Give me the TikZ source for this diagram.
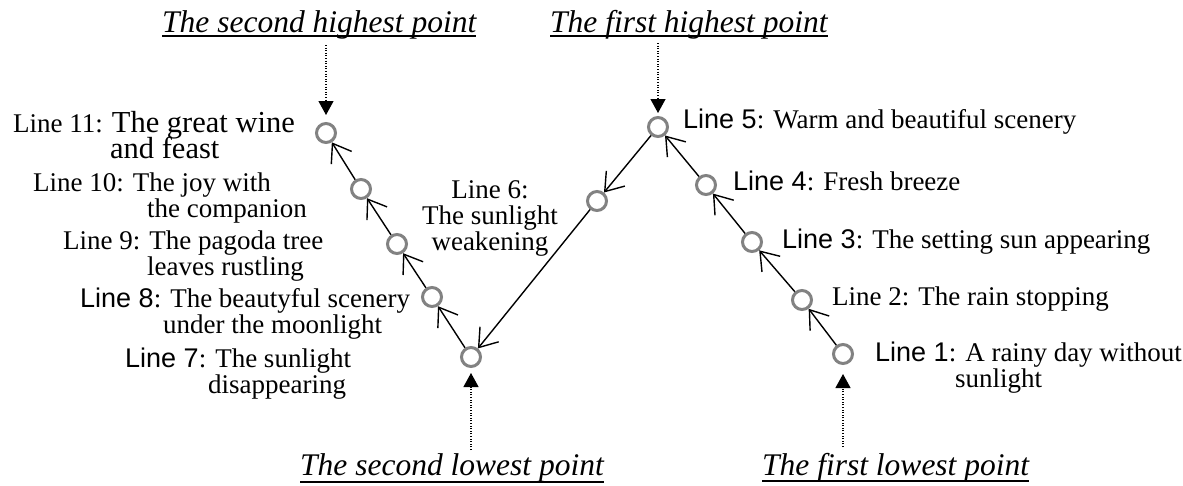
\documentclass[tikz,border=0pt]{standalone}
\usepackage{fontspec}
\setmainfont{Liberation Serif}
\newfontfamily\sanslbl{Liberation Sans}
\usetikzlibrary{arrows.meta}
\definecolor{ringgray}{RGB}{130,130,130}
% "Line N" is set in a sans face in several labels
\newcommand{\Ln}[1]{{\sanslbl Line #1}}
\newcommand{\bigtext}{\fontsize{30.5}{26}\selectfont}
\AtBeginDocument{\setlength{\lineskiplimit}{-40pt}}

\begin{document}
\begin{tikzpicture}[x=1pt,y=-1pt,
      ring/.style={circle,draw=ringgray,line width=3pt,minimum size=19pt,inner sep=0pt},
      linetext/.style={inner sep=0pt,align=left,font=\fontsize{27}{26}\selectfont},
      peak/.style={inner sep=0pt,font=\fontsize{31.5}{34}\selectfont\itshape},
      rule/.style={line width=2pt},
      flow/.style={line width=1.4pt,
        -{Straight Barb[length=17pt,width=24pt,line width=1.4pt]}},
      hint/.style={line width=1.2pt,dash pattern=on 1pt off 1.6pt,
        -{Triangle[length=14pt,width=15pt]}}]

    \useasboundingbox (0,0) rectangle (1183,485);

    % --- Titik: naik dari kanan, turun, lalu naik lagi di kiri -------------
    \node[ring] (l1) at (843,354) {};
    \node[ring] (l2) at (802,300) {};
    \node[ring] (l3) at (752,242) {};
    \node[ring] (l4) at (706,185) {};
    \node[ring] (l5) at (658,127) {};
    \node[ring] (l6) at (597,201) {};
    \node[ring] (l7) at (471,357) {};
    \node[ring] (l8) at (432,297) {};
    \node[ring] (l9) at (397,244) {};
    \node[ring] (l10) at (361,189) {};
    \node[ring] (l11) at (326,133) {};

    % --- Keterangan tiap baris ----------------------------------------------
    \node[linetext,anchor=base west] (txt1) at (875,387)
      {\Ln{1}: A rainy day without\\\hspace*{80pt}sunlight};
    \node[linetext,anchor=base west] (txt2) at (832,305)
      {Line 2: The rain stopping};
    \node[linetext,anchor=base west] (txt3) at (782,248)
      {\Ln{3}: The setting sun appearing};
    \node[linetext,anchor=base west] (txt4) at (733,190)
      {\Ln{4}: Fresh breeze};
    \node[linetext,anchor=base west] (txt5) at (683,128)
      {\Ln{5}: Warm and beautiful scenery};
    \node[linetext,align=center,anchor=base] (txt6) at (490,250)
      {Line 6:\\The sunlight\\weakening};
    \node[linetext,anchor=base west] (txt7) at (125,393)
      {\Ln{7}: The sunlight\\\hspace*{83pt}disappearing};
    \node[linetext,anchor=base west] (txt8) at (80,333)
      {\Ln{8}: The beautyful scenery\\\hspace*{83pt}under the moonlight};
    \node[linetext,anchor=base west] (txt9) at (63,275)
      {Line 9: The pagoda tree\\\hspace*{84pt}leaves rustling};
    \node[linetext,anchor=base west] (txt10) at (33,217)
      {Line 10: The joy with\\\hspace*{114pt}the companion};
    \node[linetext,anchor=base west] (txt11) at (13,158)
      {Line 11: {\bigtext The great wine}\\\hspace*{97pt}{\bigtext and feast}};

    % --- Judul titik tertinggi dan terendah ---------------------------------
    \node[peak,anchor=base west] (high2) at (162,32) {The second highest point};
    \node[peak,anchor=base west] (high1) at (550,32) {The first highest point};
    \node[peak,anchor=base west] (low2) at (300,475) {The second lowest point};
    \node[peak,anchor=base west] (low1) at (762,475) {The first lowest point};
    \draw[rule] ([yshift=-4pt]high2.base west) -- ([yshift=-4pt]high2.base east);
    \draw[rule] ([yshift=-4pt]high1.base west) -- ([yshift=-4pt]high1.base east);
    \draw[rule] ([yshift=-7pt]low2.base west) -- ([yshift=-7pt]low2.base east);
    \draw[rule] ([yshift=-6pt]low1.base west) -- ([yshift=-6pt]low1.base east);

    % --- Panah alur ---------------------------------------------------------
    \draw[flow] (l1) -- (l2);
    \draw[flow] (l2) -- (l3);
    \draw[flow] (l3) -- (l4);
    \draw[flow] (l4) -- (l5);
    \draw[flow] (l5) -- (l6);
    \draw[flow] (l6) -- (l7);
    \draw[flow] (l7) -- (l8);
    \draw[flow] (l8) -- (l9);
    \draw[flow] (l9) -- (l10);
    \draw[flow] (l10) -- (l11);

    % --- Panah titik-titik dari judul ke titiknya ---------------------------
    \draw[hint,shorten >=7pt] ([yshift=-13pt]high2.base -| l11) -- (l11);
    \draw[hint,shorten >=3pt] ([yshift=-11pt]high1.base -| l5) -- (l5);
    \draw[hint,shorten >=5pt] ([yshift=25pt]low2.base -| l7) -- (l7);
    \draw[hint,shorten >=9pt] ([yshift=28pt]low1.base -| l1) -- (l1);
  \end{tikzpicture}
\end{document}
